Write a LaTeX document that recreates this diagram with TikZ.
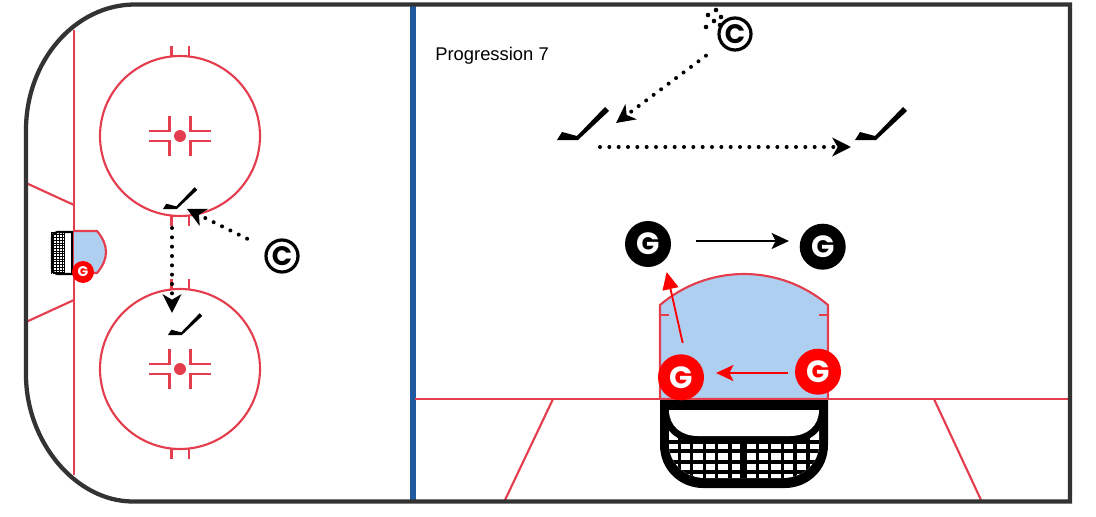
\documentclass[tikz,border=0pt]{standalone}
\usepackage{fontspec}
\setmainfont{Liberation Sans}
\newfontfamily\markfont{Poppins}[Scale=1]
\usetikzlibrary{arrows.meta}
\definecolor{rinkred}{HTML}{E43D4E}
\definecolor{creaseblue}{HTML}{AECFF0}
\definecolor{blueline}{HTML}{1F5A9E}
\definecolor{boards}{HTML}{333333}
\tikzset{
  rinkline/.style={draw=rinkred,line width=1.6pt},
  creasefill/.style={fill=creaseblue,draw=rinkred,line width=1.6pt},
  goalie/.style={circle,fill=#1,text=white,inner sep=0pt,font=\markfont\bfseries\fontsize{23}{23}\selectfont},
  coach/.style={circle,draw=black,fill=white,line width=2.4pt,inner sep=0pt,minimum size=24pt,font=\markfont\bfseries\fontsize{20}{20}\selectfont},
  dotline/.style={draw=black,line width=3pt,line cap=round,dash pattern=on 0pt off 7pt,
    -{Stealth[length=14pt,width=14pt,inset=4pt,line cap=butt,sep=3pt]}},
  skateline/.style={line width=1.4pt,-{Stealth[length=13pt,width=12pt,inset=3pt,sep=2.5pt]}},
  pics/hstick/.style={code={\fill (0,0) -- (5,-8) -- (20,-4) -- (48,-33) -- (52,-29) -- (21,0) -- cycle;}},
}
\newcommand{\faceoffmarks}[1]{
  \begin{scope}[shift={(#1)}]
    \fill[rinkred] (0,0) circle (6);
    \foreach \sx in {-1,1} \foreach \sy in {-1,1}
      \draw[rinkline] (\sx*31,\sy*4.7) -- (\sx*10.5,\sy*4.7) -- (\sx*10.5,\sy*20);
  \end{scope}
}
\begin{document}
\begin{tikzpicture}[x=0.75pt,y=-0.75pt]
\useasboundingbox (0,0) rectangle (1096,517);

% left end
\draw[rinkline] (74,30) -- (74,475);
\draw[rinkline] (26,183) -- (74,205);
\draw[rinkline] (26,322) -- (74,300);
\foreach \cy/\hy in {136/46,369/448} {
  \draw[rinkline] (180,\cy) circle (80);
  \faceoffmarks{180,\cy}
  \draw[rinkline] (171.5,\hy) -- (171.5,\hy+11);
  \draw[rinkline] (189,\hy) -- (189,\hy+11);
}
\draw[rinkline] (171.5,215) -- (171.5,226);
\draw[rinkline] (189,215) -- (189,226);
\draw[rinkline] (171.5,279) -- (171.5,290);
\draw[rinkline] (189,279) -- (189,290);

% small net and crease
\draw[creasefill] (74,231) -- (97,231) .. controls (103,238) and (106,245) .. (106,252)
  .. controls (106,259) and (103,266) .. (97,273) -- (74,273);
\begin{scope}
  \clip (51,232) rectangle (73,274);
  \foreach \i in {0,...,8} \draw[black,line width=.4pt] (51+\i*2.7,232) -- (51+\i*2.7,274);
  \foreach \i in {0,...,16} \draw[black,line width=.4pt] (51,232+\i*2.7) -- (73,232+\i*2.7);
  \fill[white] (65,232) rectangle (71,274);
\end{scope}
\draw[black,line width=1.6pt,rounded corners=4pt] (73,232) -- (52,232) -- (52,274) -- (73,274);
\draw[black,line width=1.6pt] (72,232) -- (72,274);
\node[goalie=red,minimum size=16.5pt,font=\markfont\bfseries\fontsize{10.5}{11}\selectfont] (goalieS) at (83,272) {G};

% centre line
\fill[blueline] (409.5,4) rectangle (415.5,501);

% right end
\node[anchor=base west,inner sep=0pt,font=\fontsize{13.8}{14}\selectfont] (title) at (435,60.5) {Progression 7};
\draw[rinkline] (415,399) -- (1068,399);
\draw[rinkline] (553,399) -- (505,500);
\draw[rinkline] (934,399) -- (981,500);
\draw[creasefill] (660,399) -- (660,305) .. controls (683.4,285) and (713.2,274) .. (744,274)
  .. controls (774.8,274) and (804.6,285) .. (828,305) -- (828,399) -- cycle;
\draw[rinkline] (660,315) -- (669,315);
\draw[rinkline] (819,315) -- (828,315);

% big net
\fill[black] (660,400) -- (660,445) .. controls (660,470) and (680,488) .. (703,488) -- (785,488)
  .. controls (808,488) and (828,470) .. (828,445) -- (828,400) -- cycle;
\begin{scope}
  \clip (669,425) -- (669,445) .. controls (669,463) and (685,478) .. (705,478) -- (783,478)
    .. controls (803,478) and (819,463) .. (819,445) -- (819,425) -- cycle;
  \fill[white] (660,420) rectangle (828,480);
  \foreach \gx in {679.3,691.7,704.3,716.8,730,757.5,769.3,782.5,795,808}
    \draw[black,line width=2.5pt] (\gx,430) -- (\gx,480);
  \fill[black] (740,430) rectangle (747.3,480);
  \foreach \gy in {441.5,451.3,462,472}
    \draw[black,line width=3pt] (660,\gy) -- (828,\gy);
\end{scope}
\draw[black,line width=10.5pt,line join=round] (669,410) -- (819,410) .. controls (819,426) and (807,436) .. (790,436)
  -- (698,436) .. controls (681,436) and (669,426) .. (669,410) -- cycle;
\fill[white] (669,410) -- (819,410) .. controls (819,426) and (807,436) .. (790,436)
  -- (698,436) .. controls (681,436) and (669,426) .. (669,410) -- cycle;

% boards
\draw[boards,line width=3.2pt] (135,4.5) .. controls (75,4.5) and (26,61) .. (26,130)
  -- (26,375) .. controls (26,441) and (75,501.5) .. (133,501.5)
  -- (1070,501.5) -- (1070,4.5) -- cycle;

% goalies
\node[goalie=black,minimum size=34.5pt] (goalieA) at (648,244) {G};
\node[goalie=black,minimum size=34.5pt] (goalieB) at (822.7,246.7) {G};
\node[goalie=red,minimum size=34.5pt] (goalieC) at (681,377.3) {G};
\node[goalie=red,minimum size=34.5pt] (goalieD) at (818,371.7) {G};
\coordinate (skateAs) at (696,241);
\coordinate (skateAe) at (792.3,241);
\coordinate (skateDs) at (788,373);
\coordinate (skateDe) at (712.7,373);
\coordinate (skateCs) at (682.7,343);
\coordinate (skateCe) at (666.7,272);
\draw[skateline] (skateAs) -- (skateAe);
\draw[skateline,red] (skateDs) -- (skateDe);
\draw[skateline,red,-{Stealth[length=13pt,width=12pt,inset=0pt]}] (skateCs) -- (skateCe);

% sticks
\pic[black] at (557,140) {hstick};
\pic[black] at (855,140) {hstick};
\pic[black,scale=.66] at (163,209) {hstick};
\pic[black,scale=.66] at (168,335) {hstick};

% coaches and passes
\foreach \px/\py in {708/15,716/10,721/17,714/21,706/27,720/25}
  \fill[black] (\px,\py) circle (2.3);
\node[coach] (coachR) at (735,34) {C};
\node[coach] (coachL) at (282,256) {C};
\coordinate (tipR) at (612.8,125.4);
\coordinate (tipL) at (183.4,207.2);
\coordinate (tipD) at (172,317);
\coordinate (tipA) at (855,147);
\coordinate (startD) at (172,228);
\coordinate (startA) at (600,147);
\draw[dotline,shorten <=14pt] (coachR) -- (tipR);
\draw[dotline,shorten <=16pt] (coachL) -- (tipL);
\draw[dotline] (startD) -- (tipD);
\draw[dotline] (startA) -- (tipA);
\end{tikzpicture}
\end{document}
